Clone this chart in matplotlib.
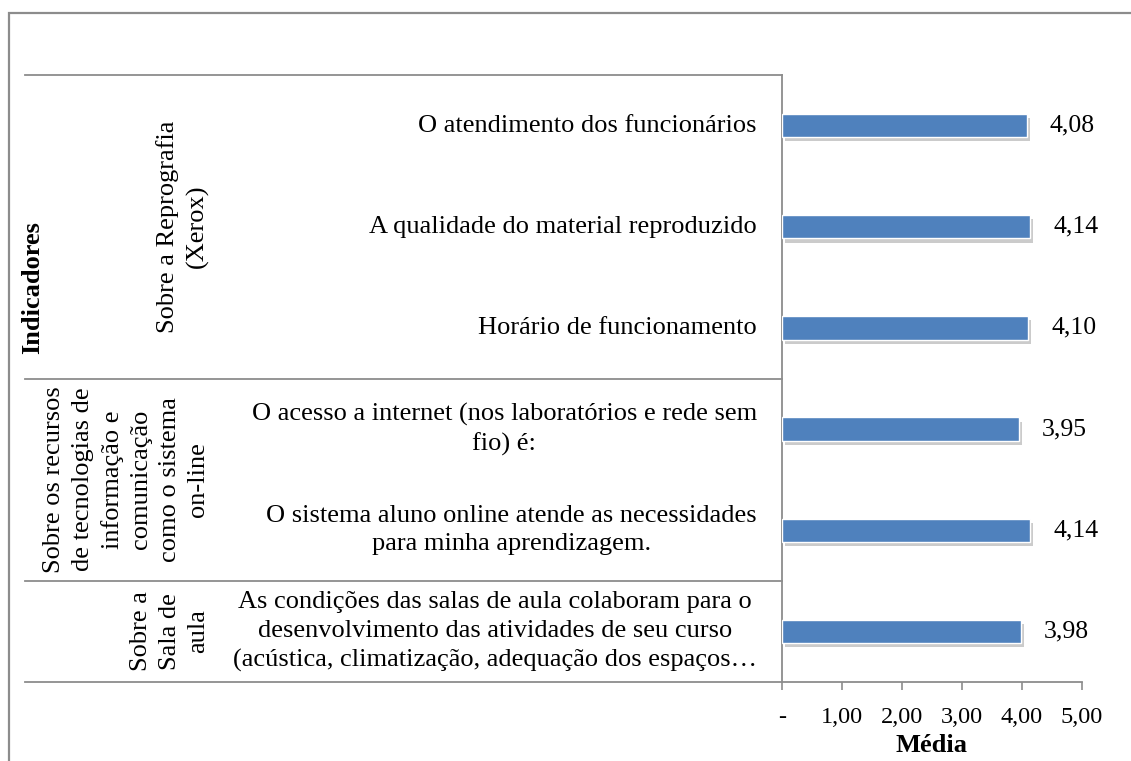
import matplotlib.pyplot as plt
import matplotlib.patheffects as pe
from matplotlib.patches import Rectangle
from matplotlib.lines import Line2D
import matplotlib.transforms as mtransforms

plt.rcParams['font.family'] = ['Liberation Serif', 'DejaVu Serif']

labels = [
    "O atendimento dos funcionários",
    "A qualidade do material reproduzido",
    "Horário de funcionamento",
    "O acesso a internet (nos laboratórios e rede sem\nfio) é:",
    "O sistema aluno online atende as necessidades\npara minha aprendizagem.",
    "As condições das salas de aula colaboram para o\ndesenvolvimento das atividades de seu curso\n(acústica, climatização, adequação dos espaços…",
]
values = [4.08, 4.14, 4.10, 3.95, 4.14, 3.98]
value_text = ["4,08", "4,14", "4,10", "3,95", "4,14", "3,98"]

groups = [
    "Sobre a Reprografia\n(Xerox)",
    "Sobre os recursos\nde tecnologias de\ninformação e\ncomunicação\ncomo o sistema\non-line",
    "Sobre a\nSala de\naula",
]
group_rows = [(0, 2), (3, 4), (5, 5)]

xticks = [0, 1, 2, 3, 4, 5]
xtick_labels = ["-", "1,00", "2,00", "3,00", "4,00", "5,00"]

W, H = 1131, 761
fig = plt.figure(figsize=(W / 100, H / 100), dpi=100)
grey = '#8c8c8c'

# outer chart frame (cut off at right/bottom like the source)
fig.patches.append(Rectangle((9 / W, -0.1), 1.2, 1 - 13 / H + 0.1, transform=fig.transFigure,
                             fill=False, edgecolor=grey, linewidth=1.6))

ax = fig.add_axes([782 / W, 1 - 682 / H, (1082 - 782) / W, (682 - 75) / H])

ypos = list(range(len(values)))
bars = ax.barh(ypos, values, height=0.23, color='#4f81bd', edgecolor='white', linewidth=1,
               zorder=3)
for b in bars:
    b.set_path_effects([pe.SimplePatchShadow(offset=(2, -3), shadow_rgbFace='#999999', alpha=0.5),
                        pe.Normal()])

ax.set_xlim(0, 5)
ax.set_ylim(len(values) - 0.5, -0.5)
ax.set_xticks(xticks)
ax.set_xticklabels(xtick_labels, fontsize=17.5)
ax.set_yticks([])
ax.tick_params(axis='x', direction='out', length=6, color=grey, width=1.2, pad=12)
for s in ['top', 'right']:
    ax.spines[s].set_visible(False)
for s in ['left', 'bottom']:
    ax.spines[s].set_color(grey)
    ax.spines[s].set_linewidth(1.3)
ax.set_xlabel("Média", fontsize=19, fontweight='bold', labelpad=4)

# value labels
for y, v, t in zip(ypos, values, value_text):
    ax.annotate(t, (v, y), xytext=(23, 0), textcoords='offset pixels',
                ha='left', va='center', fontsize=18.5)

# category labels, offset left of the axis
trans = mtransforms.blended_transform_factory(ax.transAxes, ax.transData)
for y, lab in zip(ypos, labels):
    ax.annotate(lab, (0, y), xycoords=trans, xytext=(-25, 0), textcoords='offset pixels',
                ha='right', va='center', multialignment='center', fontsize=19,
                linespacing=1.38, annotation_clip=False)

# group labels and separator lines
px_to_axes = lambda px: (px - 782) / (1082 - 782)
for g, (r0, r1) in zip(groups, group_rows):
    ax.text(px_to_axes(209), (r0 + r1) / 2, g, transform=trans, rotation=90,
            ha='right', va='center', multialignment='center', fontsize=19,
            linespacing=1.38, clip_on=False)

for yb in [-0.5, 2.5, 4.5, len(values) - 0.5]:
    ax.add_line(Line2D([px_to_axes(25), 0], [yb, yb], transform=trans, color=grey,
                       linewidth=1.3, clip_on=False))

ax.text(px_to_axes(33), 1.6, "Indicadores", transform=trans, rotation=90,
        ha='center', va='center', fontsize=19, fontweight='bold', clip_on=False)

fig.savefig('out.png', dpi=100)
